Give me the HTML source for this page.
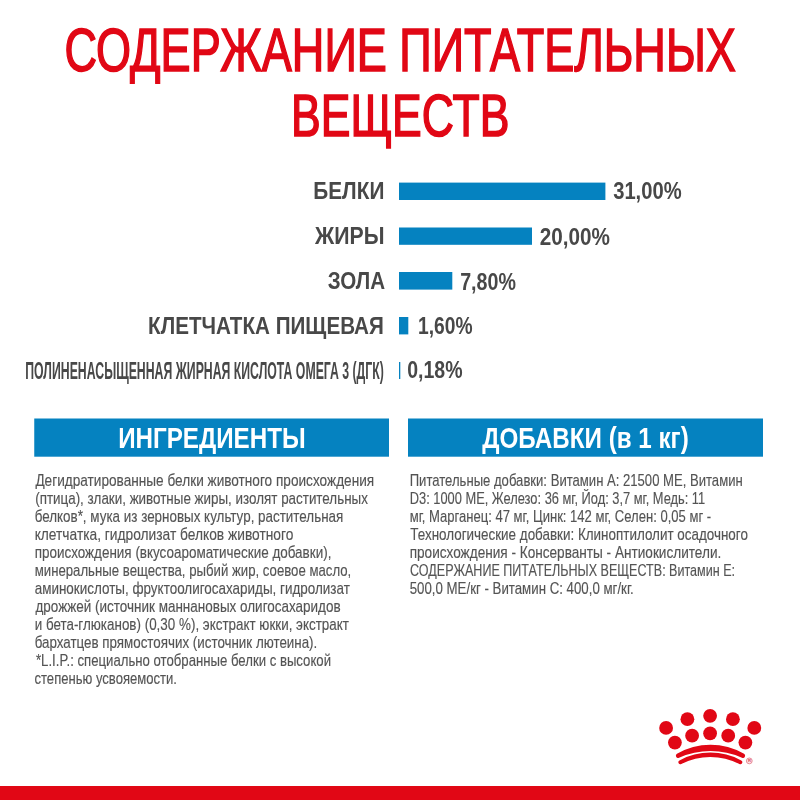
<!DOCTYPE html>
<html><head><meta charset="utf-8"><style>
html,body{margin:0;padding:0;background:#fff;}
svg{display:block;}
text{font-family:"Liberation Sans",sans-serif;}
</style></head><body>
<svg width="800" height="800" viewBox="0 0 800 800">
<rect x="0" y="0" width="800" height="800" fill="#fff"/>
<!-- bars -->
<g fill="#0582c0">
<rect x="399" y="182.6" width="206.4" height="17.4"/>
<rect x="399" y="227.5" width="133" height="17.3"/>
<rect x="399" y="272" width="53.3" height="17.6"/>
<rect x="399" y="317" width="9.3" height="17.4"/>
<rect x="399" y="362" width="1.3" height="17"/>
</g>
<!-- header boxes -->
<rect x="34.25" y="418.5" width="354.75" height="38.2" fill="#0582c0"/>
<rect x="408" y="418.5" width="355" height="38.2" fill="#0582c0"/>
<g style="will-change:transform"><text x="64.53" y="71.45" font-weight="normal" font-size="61.2" fill="#e10715" stroke="#e10715" stroke-width="1.6" textLength="671.29" lengthAdjust="spacingAndGlyphs">СОДЕРЖАНИЕ ПИТАТЕЛЬНЫХ</text>
<text x="291.02" y="136.2" font-weight="normal" font-size="59.7" fill="#e10715" stroke="#e10715" stroke-width="1.6" textLength="218.32" lengthAdjust="spacingAndGlyphs">ВЕЩЕСТВ</text>
<text x="313.32" y="199.2" font-weight="bold" font-size="24.7" fill="#484848" stroke="#484848" stroke-width="0" textLength="71.03" lengthAdjust="spacingAndGlyphs">БЕЛКИ</text>
<text x="315.00" y="244.3" font-weight="bold" font-size="24.7" fill="#484848" stroke="#484848" stroke-width="0" textLength="69.47" lengthAdjust="spacingAndGlyphs">ЖИРЫ</text>
<text x="327.67" y="289.3" font-weight="bold" font-size="24.7" fill="#484848" stroke="#484848" stroke-width="0" textLength="57.48" lengthAdjust="spacingAndGlyphs">ЗОЛА</text>
<text x="148.08" y="333.8" font-weight="bold" font-size="24.7" fill="#484848" stroke="#484848" stroke-width="0" textLength="235.67" lengthAdjust="spacingAndGlyphs">КЛЕТЧАТКА ПИЩЕВАЯ</text>
<text x="25.26" y="378.5" font-weight="bold" font-size="24.7" fill="#484848" stroke="#484848" stroke-width="0" textLength="358.67" lengthAdjust="spacingAndGlyphs">ПОЛИНЕНАСЫЩЕННАЯ ЖИРНАЯ КИСЛОТА ОМЕГА 3 (ДГК)</text>
<text x="613.18" y="199" font-weight="bold" font-size="24.7" fill="#484848" stroke="#484848" stroke-width="0" textLength="68.42" lengthAdjust="spacingAndGlyphs">31,00%</text>
<text x="539.76" y="244.5" font-weight="bold" font-size="24.7" fill="#484848" stroke="#484848" stroke-width="0" textLength="70.26" lengthAdjust="spacingAndGlyphs">20,00%</text>
<text x="460.20" y="289.6" font-weight="bold" font-size="24.7" fill="#484848" stroke="#484848" stroke-width="0" textLength="55.71" lengthAdjust="spacingAndGlyphs">7,80%</text>
<text x="417.97" y="334" font-weight="bold" font-size="24.7" fill="#484848" stroke="#484848" stroke-width="0" textLength="54.54" lengthAdjust="spacingAndGlyphs">1,60%</text>
<text x="407.21" y="378.4" font-weight="bold" font-size="24.7" fill="#484848" stroke="#484848" stroke-width="0" textLength="55.30" lengthAdjust="spacingAndGlyphs">0,18%</text>
<text x="118.14" y="448.2" font-weight="bold" font-size="30" fill="#ffffff" stroke="#ffffff" stroke-width="0" textLength="187.52" lengthAdjust="spacingAndGlyphs">ИНГРЕДИЕНТЫ</text>
<text x="482.20" y="448.3" font-weight="bold" font-size="30" fill="#ffffff" stroke="#ffffff" stroke-width="0" textLength="206.57" lengthAdjust="spacingAndGlyphs">ДОБАВКИ (в 1 кг)</text>
<text x="35.40" y="485.5" font-weight="normal" font-size="16.4" fill="#545454" stroke="#545454" stroke-width="0.15" textLength="338.79" lengthAdjust="spacingAndGlyphs">Дегидратированные белки животного происхождения</text>
<text x="35.18" y="503.5" font-weight="normal" font-size="16.4" fill="#545454" stroke="#545454" stroke-width="0.15" textLength="332.74" lengthAdjust="spacingAndGlyphs">(птица), злаки, животные жиры, изолят растительных</text>
<text x="34.68" y="521.5" font-weight="normal" font-size="16.4" fill="#545454" stroke="#545454" stroke-width="0.15" textLength="308.64" lengthAdjust="spacingAndGlyphs">белков*, мука из зерновых культур, растительная</text>
<text x="34.66" y="539.5" font-weight="normal" font-size="16.4" fill="#545454" stroke="#545454" stroke-width="0.15" textLength="258.69" lengthAdjust="spacingAndGlyphs">клетчатка, гидролизат белков животного</text>
<text x="34.68" y="557.5" font-weight="normal" font-size="16.4" fill="#545454" stroke="#545454" stroke-width="0.15" textLength="296.71" lengthAdjust="spacingAndGlyphs">происхождения (вкусоароматические добавки),</text>
<text x="34.70" y="575.5" font-weight="normal" font-size="16.4" fill="#545454" stroke="#545454" stroke-width="0.15" textLength="316.59" lengthAdjust="spacingAndGlyphs">минеральные вещества, рыбий жир, соевое масло,</text>
<text x="34.68" y="593.5" font-weight="normal" font-size="16.4" fill="#545454" stroke="#545454" stroke-width="0.15" textLength="315.21" lengthAdjust="spacingAndGlyphs">аминокислоты, фруктоолигосахариды, гидролизат</text>
<text x="35.50" y="611.5" font-weight="normal" font-size="16.4" fill="#545454" stroke="#545454" stroke-width="0.15" textLength="305.14" lengthAdjust="spacingAndGlyphs">дрожжей (источник маннановых олигосахаридов</text>
<text x="34.68" y="629.5" font-weight="normal" font-size="16.4" fill="#545454" stroke="#545454" stroke-width="0.15" textLength="314.27" lengthAdjust="spacingAndGlyphs">и бета-глюканов) (0,30 %), экстракт юкки, экстракт</text>
<text x="34.68" y="647.5" font-weight="normal" font-size="16.4" fill="#545454" stroke="#545454" stroke-width="0.15" textLength="282.60" lengthAdjust="spacingAndGlyphs">бархатцев прямостоячих (источник лютеина).</text>
<text x="36.00" y="665.5" font-weight="normal" font-size="16.4" fill="#545454" stroke="#545454" stroke-width="0.15" textLength="295.02" lengthAdjust="spacingAndGlyphs">*L.I.P.: специально отобранные белки с высокой</text>
<text x="34.50" y="683.5" font-weight="normal" font-size="16.4" fill="#545454" stroke="#545454" stroke-width="0.15" textLength="142.46" lengthAdjust="spacingAndGlyphs">степенью усвояемости.</text>
<text x="409.70" y="485.6" font-weight="normal" font-size="16.4" fill="#545454" stroke="#545454" stroke-width="0.15" textLength="333.01" lengthAdjust="spacingAndGlyphs">Питательные добавки: Витамин А: 21500 МЕ, Витамин</text>
<text x="409.72" y="503.6" font-weight="normal" font-size="16.4" fill="#545454" stroke="#545454" stroke-width="0.15" textLength="295.50" lengthAdjust="spacingAndGlyphs">D3: 1000 МЕ, Железо: 36 мг, Йод: 3,7 мг, Медь: 11</text>
<text x="409.70" y="521.6" font-weight="normal" font-size="16.4" fill="#545454" stroke="#545454" stroke-width="0.15" textLength="301.43" lengthAdjust="spacingAndGlyphs">мг, Марганец: 47 мг, Цинк: 142 мг, Селен: 0,05 мг -</text>
<text x="410.30" y="539.6" font-weight="normal" font-size="16.4" fill="#545454" stroke="#545454" stroke-width="0.15" textLength="337.58" lengthAdjust="spacingAndGlyphs">Технологические добавки: Клиноптилолит осадочного</text>
<text x="409.67" y="557.6" font-weight="normal" font-size="16.4" fill="#545454" stroke="#545454" stroke-width="0.15" textLength="311.63" lengthAdjust="spacingAndGlyphs">происхождения - Консерванты - Антиокислители.</text>
<text x="410.03" y="575.6" font-weight="normal" font-size="16.4" fill="#545454" stroke="#545454" stroke-width="0.15" textLength="325.00" lengthAdjust="spacingAndGlyphs">СОДЕРЖАНИЕ ПИТАТЕЛЬНЫХ ВЕЩЕСТВ: Витамин Е:</text>
<text x="409.69" y="593.6" font-weight="normal" font-size="16.4" fill="#545454" stroke="#545454" stroke-width="0.15" textLength="224.12" lengthAdjust="spacingAndGlyphs">500,0 МЕ/кг - Витамин С: 400,0 мг/кг.</text></g>
<!-- logo -->
<g fill="#e10715"><circle cx="666.1" cy="727.9" r="6.9"/><circle cx="687.4" cy="719.2" r="6.9"/><circle cx="710.1" cy="715.8" r="6.9"/><circle cx="732.9" cy="719.2" r="6.9"/><circle cx="754.3" cy="727.9" r="6.9"/><circle cx="674.9" cy="742.6" r="6.9"/><circle cx="692.1" cy="735.7" r="6.9"/><circle cx="710.1" cy="733.3" r="6.9"/><circle cx="728.2" cy="735.7" r="6.9"/><circle cx="745.4" cy="742.6" r="6.9"/></g>
<g fill="#e10715">
<path d="M676.98,753.7 A66.9,66.9 0 0 1 744.02,753.7 A2.25,2.25 0 0 1 741.98,757.7 A77.3,77.3 0 0 0 679.02,757.7 A2.25,2.25 0 0 1 676.98,753.7 Z"/>
<path d="M679.46,760.43 A64.85,64.85 0 0 1 741.24,760.43 A2,2 0 0 1 739.36,763.97 A63.05,63.05 0 0 0 681.34,763.97 A2,2 0 0 1 679.46,760.43 Z"/>
</g>
<circle cx="749.3" cy="760.9" r="2.9" fill="#fbe3e6" stroke="#e7808c" stroke-width="0.9"/>
<text x="747.9" y="762.4" font-size="4.2" font-weight="bold" fill="#d84a5a">R</text>
<rect x="0" y="786" width="800" height="14" fill="#e10715"/>
</svg>
</body></html>
